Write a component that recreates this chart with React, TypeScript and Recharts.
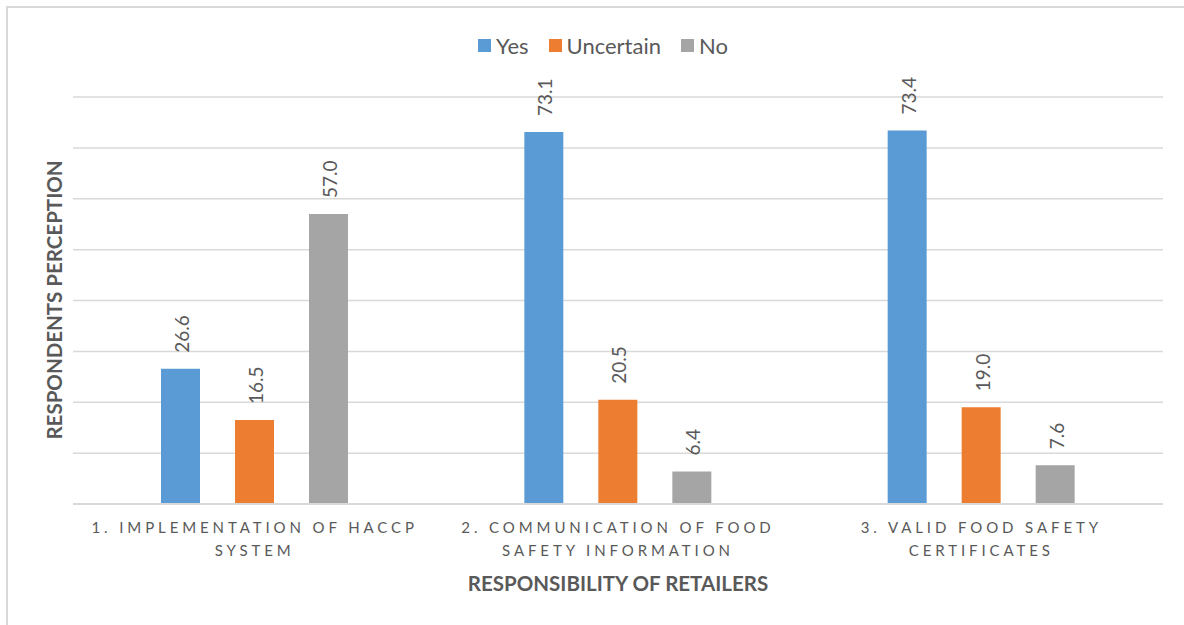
import { Bar, BarChart, CartesianGrid, LabelList, XAxis, YAxis } from "recharts";

const categories = [
  "1. IMPLEMENTATION OF HACCP SYSTEM",
  "2. COMMUNICATION OF FOOD SAFETY INFORMATION",
  "3. VALID FOOD SAFETY CERTIFICATES",
];
const yesValues = [26.6, 73.1, 73.4];
const uncertainValues = [16.5, 20.5, 19.0];
const noValues = [57.0, 6.4, 7.6];
const yTicks = [0, 10, 20, 30, 40, 50, 60, 70, 80];

const series = [
  { key: "yes", name: "Yes", color: "#5B9BD5" },
  { key: "uncertain", name: "Uncertain", color: "#ED7D31" },
  { key: "no", name: "No", color: "#A5A5A5" },
];

const data = categories.map((c, i) => ({
  category: c,
  yes: yesValues[i],
  uncertain: uncertainValues[i],
  no: noValues[i],
}));

const FONT = "Lato, 'Open Sans', sans-serif";
const TEXT = "#595959";

function wrap(label: string, max: number) {
  const lines: string[] = [];
  let cur = "";
  for (const w of label.split(" ")) {
    const next = cur ? cur + " " + w : w;
    if (next.length > max && cur) {
      lines.push(cur);
      cur = w;
    } else cur = next;
  }
  if (cur) lines.push(cur);
  return lines;
}

function CategoryTick(props: any) {
  const { x, y, payload } = props;
  const lines = wrap(payload.value, 26);
  return (
    <g>
      {lines.map((l, i) => (
        <text
          key={i}
          x={x}
          y={y + 21 + i * 23}
          textAnchor="middle"
          fill={TEXT}
          fontFamily={FONT}
          fontSize={15}
          letterSpacing={3.9}
        >
          {l}
        </text>
      ))}
    </g>
  );
}

function ValueLabel(props: any) {
  const { x, y, width, value } = props;
  const cx = x + width / 2 + 1;
  const cy = y - 16;
  return (
    <text
      x={cx}
      y={cy}
      transform={`rotate(-90 ${cx} ${cy})`}
      textAnchor="start"
      dominantBaseline="central"
      fill={TEXT}
      fontFamily={FONT}
      fontSize={19}
    >
      {Number(value).toFixed(1)}
    </text>
  );
}

export default function App() {
  return (
    <div style={{ position: "absolute", left: 0, top: 0, width: 1184, height: 625, background: "#fff", overflow: "hidden" }}>
      <div
        style={{
          position: "absolute",
          left: 6,
          top: 6,
          width: 1200,
          height: 640,
          border: "2px solid #d9d9d9",
        }}
      />
      <div
        style={{
          position: "absolute",
          top: 32,
          left: 0,
          width: 1206,
          display: "flex",
          justifyContent: "center",
          fontFamily: FONT,
          fontSize: 22,
          color: TEXT,
        }}
      >
        {series.map((s, i) => (
          <div
            key={s.key}
            style={{ display: "flex", alignItems: "center", marginRight: i < series.length - 1 ? 20 : 0 }}
          >
            <span style={{ width: 13, height: 13, background: s.color, marginRight: 5 }} />
            <span>{s.name}</span>
          </div>
        ))}
      </div>
      <div
        style={{
          position: "absolute",
          left: 54,
          top: 300,
          transform: "translate(-50%, -50%) rotate(-90deg)",
          whiteSpace: "nowrap",
          fontFamily: FONT,
          fontWeight: 700,
          fontSize: 20.5,
          color: TEXT,
        }}
      >
        RESPONDENTS PERCEPTION
      </div>
      <div style={{ position: "absolute", left: 0, top: 0 }}>
        <BarChart
          width={1184}
          height={625}
          data={data}
          margin={{ top: 97, right: 21, bottom: 31, left: 73 }}
          barCategoryGap="24%"
          barGap={35}
        >
          <CartesianGrid vertical={false} horizontalValues={yTicks} stroke="#d9d9d9" strokeWidth={1.5} />
          <YAxis domain={[0, 80]} ticks={yTicks} hide />
          <XAxis
            dataKey="category"
            height={90}
            axisLine={{ stroke: "#d9d9d9", strokeWidth: 2 }}
            tickLine={false}
            interval={0}
            tick={<CategoryTick />}
            label={{
              content: (p: any) => (
                <text
                  x={p.viewBox.x + p.viewBox.width / 2}
                  y={p.viewBox.y + 79}
                  textAnchor="middle"
                  dominantBaseline="central"
                  fill={TEXT}
                  fontFamily={FONT}
                  fontWeight={700}
                  fontSize={20.5}
                >
                  RESPONSIBILITY OF RETAILERS
                </text>
              ),
            }}
          />
          {series.map((s) => (
            <Bar key={s.key} dataKey={s.key} name={s.name} fill={s.color} barSize={39} isAnimationActive={false}>
              <LabelList dataKey={s.key} content={<ValueLabel />} />
            </Bar>
          ))}
        </BarChart>
      </div>
    </div>
  );
}
